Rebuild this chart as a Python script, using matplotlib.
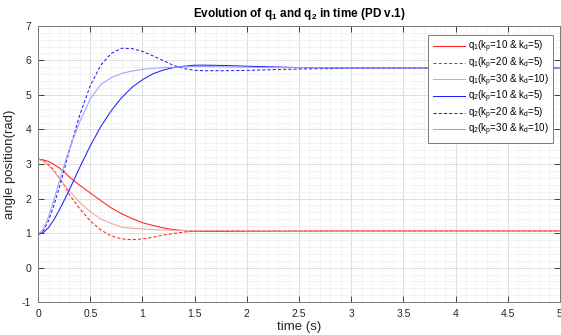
import matplotlib
matplotlib.use("Agg")
import matplotlib.pyplot as plt
from matplotlib.ticker import MultipleLocator, FormatStrFormatter

plt.rcParams["font.family"] = ["Liberation Sans", "DejaVu Sans"]
plt.rcParams["mathtext.fontset"] = "custom"
plt.rcParams["mathtext.rm"] = "Liberation Sans"

# ---------------------------------------------------------------------------
# data
# ---------------------------------------------------------------------------
t = [0, 0.05, 0.1, 0.15, 0.2, 0.25, 0.3, 0.4, 0.5, 0.6, 0.7, 0.8, 0.9, 1.0,
     1.1, 1.2, 1.3, 1.4, 1.5, 1.6, 1.8, 2.0, 2.25, 2.5, 3.0, 3.5, 4.0, 4.5, 5.0]

q1_kp10 = [3.14, 3.12, 3.07, 2.99, 2.89, 2.77, 2.62, 2.38, 2.16, 1.94, 1.73,
           1.56, 1.42, 1.30, 1.22, 1.15, 1.10, 1.07, 1.055, 1.05, 1.045, 1.045,
           1.05, 1.055, 1.06, 1.06, 1.06, 1.06, 1.06]
q1_kp20 = [3.14, 3.10, 2.99, 2.82, 2.61, 2.38, 2.11, 1.70, 1.35, 1.09, 0.92,
           0.83, 0.81, 0.83, 0.88, 0.94, 0.99, 1.03, 1.06, 1.07, 1.075, 1.07,
           1.065, 1.06, 1.06, 1.06, 1.06, 1.06, 1.06]
q1_kp30 = [3.14, 3.08, 2.95, 2.79, 2.60, 2.40, 2.22, 1.88, 1.62, 1.41, 1.28,
           1.17, 1.14, 1.12, 1.10, 1.09, 1.08, 1.075, 1.07, 1.07, 1.065, 1.06,
           1.06, 1.06, 1.06, 1.06, 1.06, 1.06, 1.06]

q2_kp10 = [0.96, 1.02, 1.16, 1.38, 1.65, 1.95, 2.26, 2.91, 3.53, 4.08, 4.54,
           4.92, 5.22, 5.44, 5.61, 5.72, 5.79, 5.83, 5.86, 5.86, 5.85, 5.83,
           5.81, 5.79, 5.78, 5.78, 5.78, 5.78, 5.78]
q2_kp20 = [0.96, 1.07, 1.36, 1.79, 2.29, 2.84, 3.40, 4.43, 5.27, 5.86, 6.20,
           6.35, 6.34, 6.26, 6.13, 5.99, 5.85, 5.76, 5.71, 5.70, 5.70, 5.71,
           5.73, 5.75, 5.77, 5.78, 5.78, 5.78, 5.78]
q2_kp30 = [0.96, 1.11, 1.48, 1.95, 2.47, 2.97, 3.44, 4.23, 4.88, 5.30, 5.50,
           5.62, 5.69, 5.74, 5.77, 5.79, 5.80, 5.81, 5.82, 5.82, 5.81, 5.80,
           5.79, 5.79, 5.78, 5.78, 5.78, 5.78, 5.78]

labels = [
    r"q$\mathregular{_1}$(k$\mathregular{_p}$=10 & k$\mathregular{_d}$=5)",
    r"q$\mathregular{_1}$(k$\mathregular{_p}$=20 & k$\mathregular{_d}$=5)",
    r"q$\mathregular{_1}$(k$\mathregular{_p}$=30 & k$\mathregular{_d}$=10)",
    r"q$\mathregular{_2}$(k$\mathregular{_p}$=10 & k$\mathregular{_d}$=5)",
    r"q$\mathregular{_2}$(k$\mathregular{_p}$=20 & k$\mathregular{_d}$=5)",
    r"q$\mathregular{_2}$(k$\mathregular{_p}$=30 & k$\mathregular{_d}$=10)",
]

fig = plt.figure(figsize=(5.61, 3.35), dpi=100)
ax = fig.add_axes([0.068, 0.098, 0.930, 0.825])

dash = (0, (3, 2))
ax.plot(t, q1_kp10, color="#ff2020", lw=0.75, label=labels[0])
ax.plot(t, q1_kp20, color="#ff2020", lw=0.75, ls=dash, label=labels[1])
ax.plot(t, q1_kp30, color="#f5a0a0", lw=0.75, label=labels[2])
ax.plot(t, q2_kp10, color="#2020ff", lw=0.75, label=labels[3])
ax.plot(t, q2_kp20, color="#2020ff", lw=0.75, ls=dash, label=labels[4])
ax.plot(t, q2_kp30, color="#a0a0f5", lw=0.75, label=labels[5])

ax.set_xlim(0, 5)
ax.set_ylim(-1, 7)
ax.xaxis.set_major_locator(MultipleLocator(0.5))
ax.xaxis.set_minor_locator(MultipleLocator(0.1))
ax.yaxis.set_major_locator(MultipleLocator(1))
ax.yaxis.set_minor_locator(MultipleLocator(0.2))
ax.xaxis.set_major_formatter(FormatStrFormatter("%g"))
ax.yaxis.set_major_formatter(FormatStrFormatter("%g"))

ax.grid(which="major", color="#d9d9d9", lw=0.6)
ax.grid(which="minor", color="#eeeeee", lw=0.5)
ax.set_axisbelow(True)

ax.tick_params(which="major", direction="in", length=4, width=0.6,
               top=True, right=True, labelsize=7.5, colors="#262626",
               pad=5)
ax.tick_params(which="minor", length=0, top=True, right=True)
for s in ax.spines.values():
    s.set_color("#7a7a7a")
    s.set_linewidth(0.7)

ax.set_xlabel("time (s)", fontsize=9.5, color="#262626", labelpad=1)
ax.set_ylabel("angle position(rad)", fontsize=9.5, color="#262626", labelpad=4)
ax.set_title(r"Evolution of q$\mathregular{_1}$ and q$\mathregular{_2}$ in time (PD v.1)",
             fontsize=8.5, fontweight="bold", color="#000000", pad=6)

leg = ax.legend(loc="upper right", bbox_to_anchor=(0.986, 0.968), fontsize=7,
                fancybox=False, framealpha=1, edgecolor="#7a7a7a",
                handlelength=3.3, handletextpad=0.3, labelspacing=0.02,
                borderpad=0.45, borderaxespad=0)
leg.get_frame().set_linewidth(0.7)

fig.savefig("out.png", dpi=100)
